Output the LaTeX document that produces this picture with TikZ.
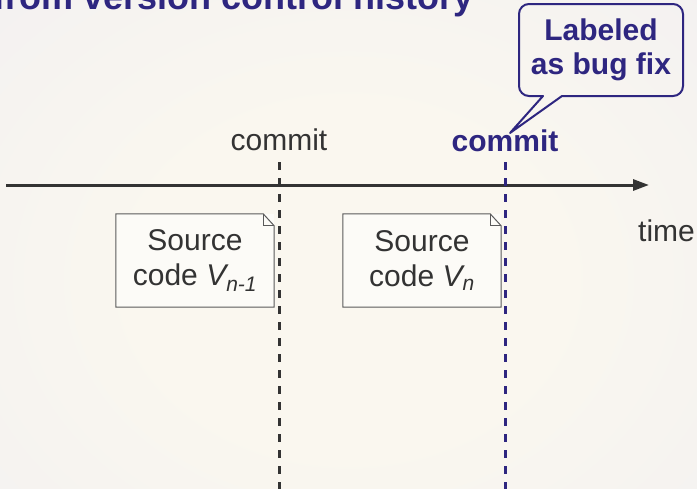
\documentclass[tikz,border=0pt]{standalone}
\usepackage{fontspec}
\setmainfont{Liberation Sans}
\usetikzlibrary{arrows.meta}
\definecolor{titleblue}{RGB}{46,38,128}
\definecolor{ink}{RGB}{51,51,51}
\definecolor{bgin}{HTML}{FAF7EF}
\definecolor{bgout}{HTML}{EEECF3}
\definecolor{docfill}{HTML}{FCFBF7}
\definecolor{docline}{RGB}{90,90,90}
\pgfdeclareradialshading{bgshade}{\pgfpoint{0bp}{0bp}}{color(0bp)=(bgin); color(15bp)=(bgin); color(55bp)=(bgout); color(75bp)=(bgout)}
\tikzset{
  txt/.style={text=ink, font=\fontsize{30}{35}\selectfont, inner sep=0pt},
  btxt/.style={text=titleblue, font=\fontsize{30}{34}\selectfont\bfseries, inner sep=0pt},
  titletxt/.style={text=titleblue, font=\fontsize{36}{40}\selectfont\bfseries, inner sep=0pt},
  axisline/.style={draw=ink, line width=3pt, -{Triangle[length=16pt,width=11pt]}},
  commitline/.style={draw=ink, line width=3pt, dash pattern=on 8pt off 8pt},
  bugline/.style={commitline, draw=titleblue},
  docbox/.style={draw=none, fill=docfill, minimum width=158pt, minimum height=93pt, align=center, txt},
  docedge/.style={draw=docline, line width=1pt, line join=miter},
  calloutline/.style={draw=titleblue, line width=2pt, line join=round},
}
\begin{document}
\begin{tikzpicture}[x=1pt,y=-1pt]
\useasboundingbox (0,0) rectangle (697,488);
\clip (0,0) rectangle (697,488);
\shade[shading=bgshade] (0,0) rectangle (697,560);

% title (cut off at the top)
\node[titletxt, anchor=base west] (title) at (-7,9) {from version control history};

% time axis
\coordinate (axstart) at (6,185);
\coordinate (axend) at (649,185);
\draw[axisline] (axstart) -- (axend);
\node[txt, anchor=base west] (time) at (638,241) {time};

% commits
\node[txt, anchor=base] (commit1) at (279,150) {commit};
\node[btxt, anchor=base] (commit2) at (505,151) {commit};
\coordinate (c1top) at (279,162);
\coordinate (c1bot) at (279,495);
\coordinate (c2top) at (505,162);
\coordinate (c2bot) at (505,495);
\draw[commitline] (c1top) -- (c1bot);
\draw[bugline] (c2top) -- (c2bot);

% source documents
\node[docbox] (doc1) at (195,260.5) {Source\\code {\itshape V\textsubscript{n-1}}};
\node[docbox] (doc2) at (422,260.5) {Source\\code {\itshape V\textsubscript{n}}};
\foreach \d in {doc1,doc2}{
  \draw[docedge] (\d.north west) -- ([xshift=-11pt]\d.north east) -- ([yshift=-12pt]\d.north east) -- (\d.south east) -- (\d.south west) -- cycle;
  \draw[docedge, line width=0.8pt] ([xshift=-11pt]\d.north east) -- ([xshift=-11pt,yshift=-12pt]\d.north east) -- ([yshift=-12pt]\d.north east);
}

% callout
\node[btxt, align=center] (label) at (601,50) {Labeled\\as bug fix};
\coordinate (tip) at (510,133);
\draw[calloutline] (543,96) -- (tip) -- (562,96) [rounded corners=10pt] -- (683,96) -- (683,4) -- (519,4) -- (519,96) [sharp corners] -- cycle;
\end{tikzpicture}
\end{document}
